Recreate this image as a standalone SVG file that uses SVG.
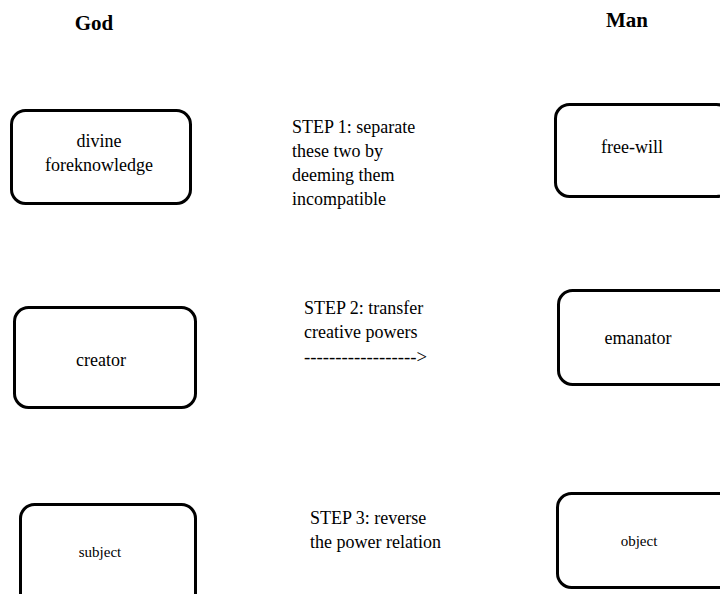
<svg xmlns="http://www.w3.org/2000/svg" width="720" height="594" viewBox="0 0 720 594">
<style>
.box{fill:#fff;stroke:#000;stroke-width:3}
text{font-family:"Liberation Serif","Times New Roman",serif;fill:#000}
.t{font-size:18px}
.s{font-size:15px}
.h{font-size:21px;font-weight:bold}
.c{text-anchor:middle}
</style>
<rect width="720" height="594" fill="#fff"/>
<text class="h c" x="94" y="30">God</text>
<text class="h c" x="627" y="27">Man</text>
<g id="divine-foreknowledge">
<rect class="box" x="11.5" y="110.5" width="179" height="93" rx="14"/>
<text class="t c" x="99" y="147">divine</text>
<text class="t c" x="99" y="171">foreknowledge</text>
</g>
<g id="free-will">
<rect class="box" x="555.5" y="104.5" width="175" height="92" rx="14"/>
<text class="t c" x="632" y="153">free-will</text>
</g>
<g id="creator">
<rect class="box" x="14.5" y="307.5" width="181" height="100" rx="14"/>
<text class="t c" x="101" y="366">creator</text>
</g>
<g id="emanator">
<rect class="box" x="558.5" y="290.5" width="175" height="94" rx="14"/>
<text class="t c" x="638" y="344">emanator</text>
</g>
<g id="subject">
<rect class="box" x="20.5" y="504.5" width="175" height="110" rx="14"/>
<text class="s c" x="100" y="557">subject</text>
</g>
<g id="object">
<rect class="box" x="557.5" y="493.5" width="175" height="94" rx="14"/>
<text class="s c" x="639" y="546">object</text>
</g>
<g id="connectors">
<text class="t" x="304" y="363" textLength="123" lengthAdjust="spacingAndGlyphs">------------------&gt;</text>
</g>
<g id="labels">
<text class="t" x="292" y="133">STEP 1: separate</text>
<text class="t" x="292" y="157">these two by</text>
<text class="t" x="292" y="181">deeming them</text>
<text class="t" x="292" y="205">incompatible</text>
<text class="t" x="304" y="314">STEP 2: transfer</text>
<text class="t" x="304" y="338">creative powers</text>
<text class="t" x="310" y="524">STEP 3: reverse</text>
<text class="t" x="310" y="548">the power relation</text>
</g>
</svg>
